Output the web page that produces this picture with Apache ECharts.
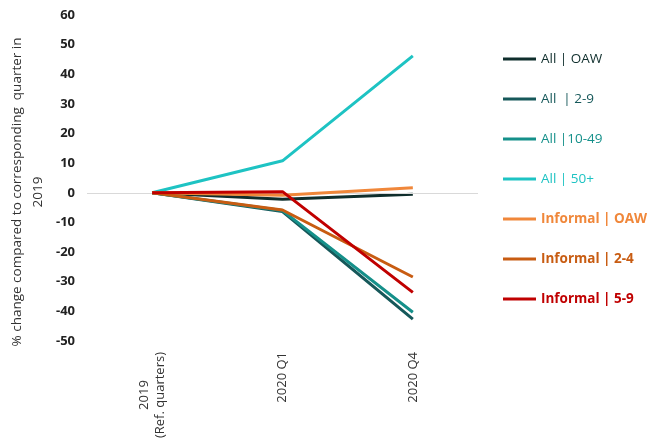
<!DOCTYPE html>
<html><head><meta charset="utf-8">
<script src="https://cdn.jsdelivr.net/npm/echarts@6/dist/echarts.min.js"></script>
<style>html,body{margin:0;padding:0;background:#fff}#c{width:655px;height:445px}</style>
</head><body><div id="c"></div>
<script>
const categories = ['2019\n(Ref. quarters)', '2020 Q1', '2020 Q4'];
const seriesNames = ['All | OAW', 'All  | 2-9', 'All |10-49', 'All | 50+', 'Informal | OAW', 'Informal | 2-4', 'Informal | 5-9'];
const allOAW = [0, -2.2, -0.5];
const all2_9 = [0, -6.3, -42.6];
const all10_49 = [0, -6.0, -40.3];
const all50 = [0, 10.8, 46.2];
const infOAW = [0, -0.8, 1.7];
const inf2_4 = [0, -5.8, -28.4];
const inf5_9 = [0, 0.4, -33.6];
const yTicks = { min: -50, max: 60, interval: 10 };

const values = [allOAW, all2_9, all10_49, all50, infOAW, inf2_4, inf5_9];
const colors = ['#0f2e2c', '#16585a', '#15908a', '#1ec3c3', '#f0873a', '#c85c12', '#c00000'];
const bold = [false, false, false, false, true, true, true];

const chart = echarts.init(document.getElementById('c'));
const series = [{
  type: 'line', name: '_zero', data: [], z: 1, silent: true,
  markLine: { silent: true, symbol: 'none', label: { show: false },
    lineStyle: { color: '#d9d9d9', width: 1, type: 'solid' },
    data: [{ yAxis: 0 }] }
}];
seriesNames.forEach((n, i) => series.push({
  type: 'line', name: n, data: values[i], symbol: 'none', z: 2 + i,
  lineStyle: { color: colors[i], width: 3 }, itemStyle: { color: colors[i] }
}));

chart.setOption({
  animation: false,
  textStyle: { fontFamily: 'Open Sans' },
  grid: { left: 87, right: 177, top: 15, bottom: 104, containLabel: false, outerBoundsMode: 'none' },
  legend: {
    orient: 'vertical', left: 498, top: 47, itemGap: 26, itemWidth: 33, itemHeight: 14,
    icon: 'path://M0,0H33V3H0Z',
    data: seriesNames.map((n, i) => ({ name: n, textStyle: { color: colors[i], fontWeight: bold[i] ? 'bold' : 'normal', fontSize: 13.5 } })),
    textStyle: { fontFamily: 'Open Sans', fontSize: 13.5 }
  },
  xAxis: {
    type: 'category', data: categories, boundaryGap: true,
    axisLine: { show: false }, axisTick: { show: false },
    axisLabel: {
      rotate: 90, margin: 11, interval: 0, color: '#333', fontSize: 13,
      formatter: v => v.split('\n').map(s => '{c|' + s + '}').join('\n'),
      rich: { c: { align: 'center', fontSize: 13, color: '#333', lineHeight: 16 } }
    }
  },
  yAxis: {
    type: 'value', min: yTicks.min, max: yTicks.max, interval: yTicks.interval,
    axisLine: { show: false }, axisTick: { show: false }, splitLine: { show: false },
    axisLabel: { color: '#222', fontWeight: 'bold', fontSize: 13, margin: 12 },
    name: '% change compared to corresponding  quarter in\n2019',
    nameLocation: 'middle', nameGap: 38, nameMoveOverlap: false,
    nameTextStyle: { color: '#333', fontSize: 13.5, lineHeight: 21, align: 'center', padding: [0, 28, 0, 0] }
  },
  series: series
});
</script></body></html>
